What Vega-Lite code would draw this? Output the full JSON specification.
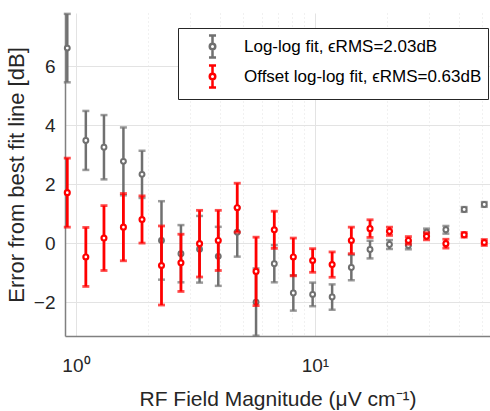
{
  "$schema": "https://vega.github.io/schema/vega-lite/v6.json",
  "autosize": "none",
  "width": 425,
  "height": 323,
  "padding": {"left": 65, "top": 13, "right": 0, "bottom": 75},
  "background": "white",
  "config": {
    "font": "Liberation Sans",
    "view": {"stroke": null},
    "axis": {
      "labelFont": "Liberation Sans",
      "titleFont": "Liberation Sans",
      "labelColor": "#262626",
      "titleColor": "#262626",
      "titleFontWeight": "normal",
      "labelFontSize": 19,
      "titleFontSize": 21,
      "domainColor": "#808080",
      "domainWidth": 1.5,
      "tickColor": "#808080",
      "tickSize": 0,
      "gridColor": "#e3e3e3",
      "gridWidth": 1
    }
  },
  "data": {
    "values": [
      {"x": 0.92, "y": 6.61, "err": 1.16, "s": "Log-log fit, ϵRMS=2.03dB"},
      {"x": 1.10, "y": 3.48, "err": 1.0, "s": "Log-log fit, ϵRMS=2.03dB"},
      {"x": 1.31, "y": 3.25, "err": 1.09, "s": "Log-log fit, ϵRMS=2.03dB"},
      {"x": 1.58, "y": 2.77, "err": 1.15, "s": "Log-log fit, ϵRMS=2.03dB"},
      {"x": 1.89, "y": 2.33, "err": 0.8, "s": "Log-log fit, ϵRMS=2.03dB"},
      {"x": 2.28, "y": 0.09, "err": 1.33, "s": "Log-log fit, ϵRMS=2.03dB"},
      {"x": 2.75, "y": -0.36, "err": 0.97, "s": "Log-log fit, ϵRMS=2.03dB"},
      {"x": 3.29, "y": -0.21, "err": 1.13, "s": "Log-log fit, ϵRMS=2.03dB"},
      {"x": 3.94, "y": -0.45, "err": 1.0, "s": "Log-log fit, ϵRMS=2.03dB"},
      {"x": 4.73, "y": 0.37, "err": 0.83, "s": "Log-log fit, ϵRMS=2.03dB"},
      {"x": 5.67, "y": -2.0, "err": 1.14, "s": "Log-log fit, ϵRMS=2.03dB"},
      {"x": 6.76, "y": -0.70, "err": 0.63, "s": "Log-log fit, ϵRMS=2.03dB"},
      {"x": 8.12, "y": -1.69, "err": 0.6, "s": "Log-log fit, ϵRMS=2.03dB"},
      {"x": 9.78, "y": -1.74, "err": 0.4, "s": "Log-log fit, ϵRMS=2.03dB"},
      {"x": 11.8, "y": -1.83, "err": 0.43, "s": "Log-log fit, ϵRMS=2.03dB"},
      {"x": 14.2, "y": -0.83, "err": 0.43, "s": "Log-log fit, ϵRMS=2.03dB"},
      {"x": 17.0, "y": -0.22, "err": 0.3, "s": "Log-log fit, ϵRMS=2.03dB"},
      {"x": 20.5, "y": -0.05, "err": 0.15, "s": "Log-log fit, ϵRMS=2.03dB"},
      {"x": 24.6, "y": -0.08, "err": 0.13, "s": "Log-log fit, ϵRMS=2.03dB"},
      {"x": 29.3, "y": 0.37, "err": 0.12, "s": "Log-log fit, ϵRMS=2.03dB"},
      {"x": 35.3, "y": 0.45, "err": 0.13, "s": "Log-log fit, ϵRMS=2.03dB"},
      {"x": 42.1, "y": 1.14, "err": 0.08, "s": "Log-log fit, ϵRMS=2.03dB"},
      {"x": 51.1, "y": 1.31, "err": 0.08, "s": "Log-log fit, ϵRMS=2.03dB"},
      {"x": 0.92, "y": 1.71, "err": 1.17, "s": "Offset log-log fit, ϵRMS=0.63dB"},
      {"x": 1.10, "y": -0.47, "err": 1.0, "s": "Offset log-log fit, ϵRMS=0.63dB"},
      {"x": 1.31, "y": 0.17, "err": 1.1, "s": "Offset log-log fit, ϵRMS=0.63dB"},
      {"x": 1.58, "y": 0.54, "err": 1.14, "s": "Offset log-log fit, ϵRMS=0.63dB"},
      {"x": 1.89, "y": 0.80, "err": 0.8, "s": "Offset log-log fit, ϵRMS=0.63dB"},
      {"x": 2.28, "y": -0.76, "err": 1.34, "s": "Offset log-log fit, ϵRMS=0.63dB"},
      {"x": 2.75, "y": -0.67, "err": 0.97, "s": "Offset log-log fit, ϵRMS=0.63dB"},
      {"x": 3.29, "y": -0.02, "err": 1.13, "s": "Offset log-log fit, ϵRMS=0.63dB"},
      {"x": 3.94, "y": 0.09, "err": 1.02, "s": "Offset log-log fit, ϵRMS=0.63dB"},
      {"x": 4.73, "y": 1.2, "err": 0.83, "s": "Offset log-log fit, ϵRMS=0.63dB"},
      {"x": 5.67, "y": -0.96, "err": 1.16, "s": "Offset log-log fit, ϵRMS=0.63dB"},
      {"x": 6.76, "y": 0.45, "err": 0.63, "s": "Offset log-log fit, ϵRMS=0.63dB"},
      {"x": 8.12, "y": -0.47, "err": 0.64, "s": "Offset log-log fit, ϵRMS=0.63dB"},
      {"x": 9.78, "y": -0.59, "err": 0.4, "s": "Offset log-log fit, ϵRMS=0.63dB"},
      {"x": 11.8, "y": -0.73, "err": 0.43, "s": "Offset log-log fit, ϵRMS=0.63dB"},
      {"x": 14.2, "y": 0.09, "err": 0.45, "s": "Offset log-log fit, ϵRMS=0.63dB"},
      {"x": 17.0, "y": 0.49, "err": 0.3, "s": "Offset log-log fit, ϵRMS=0.63dB"},
      {"x": 20.5, "y": 0.40, "err": 0.14, "s": "Offset log-log fit, ϵRMS=0.63dB"},
      {"x": 24.6, "y": 0.09, "err": 0.13, "s": "Offset log-log fit, ϵRMS=0.63dB"},
      {"x": 29.3, "y": 0.23, "err": 0.12, "s": "Offset log-log fit, ϵRMS=0.63dB"},
      {"x": 35.3, "y": -0.02, "err": 0.15, "s": "Offset log-log fit, ϵRMS=0.63dB"},
      {"x": 42.1, "y": 0.28, "err": 0.08, "s": "Offset log-log fit, ϵRMS=0.63dB"},
      {"x": 51.1, "y": 0.02, "err": 0.1, "s": "Offset log-log fit, ϵRMS=0.63dB"}
    ]
  },
  "encoding": {
    "x": {
      "field": "x", "type": "quantitative",
      "scale": {"type": "log", "domain": [0.9, 54], "nice": false},
      "axis": {
        "title": "RF Field Magnitude (μV cm⁻¹)",
        "values": [1, 2, 3, 4, 5, 6, 7, 8, 9, 10, 20, 30, 40, 50],
        "labelExpr": "datum.value == 1 ? '10⁰' : (datum.value == 10 ? '10¹' : '')",
        "labelOverlap": false,
        "labelPadding": 20,
        "titlePadding": 13,
        "grid": true,
        "gridDash": {"condition": {"test": "datum.value == 1 || datum.value == 10", "value": []}, "value": [1, 3]}
      }
    },
    "y": {
      "field": "y", "type": "quantitative",
      "scale": {"domain": [-3.15, 7.8], "nice": false, "zero": false},
      "axis": {
        "title": "Error from best fit line [dB]",
        "titleFontSize": 22,
        "values": [-2, 0, 2, 4, 6],
        "labelPadding": 10,
        "titlePadding": 5,
        "grid": true
      }
    }
  },
  "layer": [
    {
      "transform": [{"filter": "datum.s == 'Log-log fit, ϵRMS=2.03dB'"}],
      "mark": {"type": "errorbar", "color": "#707070", "thickness": 2.5, "ticks": {"size": 7}},
      "encoding": {"yError": {"field": "err"}}
    },
    {
      "transform": [{"filter": "datum.s == 'Log-log fit, ϵRMS=2.03dB'"}],
      "mark": {"type": "point", "shape": "circle", "filled": false, "fill": "white", "size": 24, "strokeWidth": 2, "opacity": 1},
      "encoding": {
        "color": {
          "field": "s", "type": "nominal",
          "scale": {"domain": ["Log-log fit, ϵRMS=2.03dB", "Offset log-log fit, ϵRMS=0.63dB"], "range": ["#707070", "#ff0000"]},
          "legend": {
            "title": null,
            "orient": "none",
            "legendX": 113,
            "legendY": 15,
            "padding": 6,
            "strokeColor": "#262626",
            "fillColor": "white",
            "symbolType": "M0,-1L0,-0.25M0,0.25L0,1M-0.32,-1L0.32,-1M-0.32,1L0.32,1M0.25,0A0.25,0.25,0,1,1,-0.25,0A0.25,0.25,0,1,1,0.25,0Z",
            "symbolSize": 484,
            "symbolStrokeWidth": 2.5,
            "symbolOffset": 16,
            "labelOffset": 19,
            "labelFontSize": 17,
            "labelFont": "Liberation Sans",
            "labelColor": "#000000",
            "rowPadding": -3,
            "labelLimit": 0
          }
        }
      }
    },
    {
      "transform": [{"filter": "datum.s != 'Log-log fit, ϵRMS=2.03dB'"}],
      "mark": {"type": "errorbar", "color": "#ff0000", "thickness": 2.8, "ticks": {"size": 7}},
      "encoding": {"yError": {"field": "err"}}
    },
    {
      "transform": [{"filter": "datum.s != 'Log-log fit, ϵRMS=2.03dB'"}],
      "mark": {"type": "point", "shape": "circle", "filled": false, "fill": "white", "size": 24, "strokeWidth": 2.2, "opacity": 1},
      "encoding": {
        "color": {"field": "s", "type": "nominal"}
      }
    }
  ]
}
